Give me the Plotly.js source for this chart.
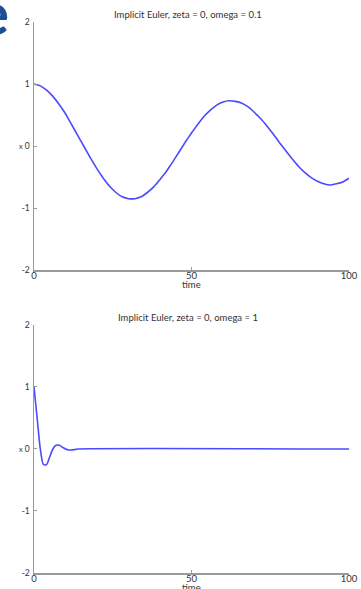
<!DOCTYPE html>
<html>
<head>
<meta charset="utf-8">
<script src="https://cdn.plot.ly/plotly-3.0.1.min.js"></script>
<style>html,body{margin:0;padding:0;background:#fff;}#chart{width:361px;height:589px;}</style>
</head>
<body>
<div id="chart"></div>
<script>
// Top panel: Implicit Euler, zeta = 0, omega = 0.1
const timeTop = [0,2,4,6,8,10,12,14,16,18,20,22,24,26,28,30,32,34,36,38,40,42,44,46,48,50,52,54,56,58,60,62,64,66,68,70,72,74,76,78,80,82,84,86,88,90,92,94,96,98,100];
const xTop = [1.00,0.97,0.90,0.80,0.67,0.52,0.34,0.16,-0.02,-0.20,-0.37,-0.52,-0.65,-0.75,-0.82,-0.85,-0.85,-0.82,-0.75,-0.66,-0.54,-0.41,-0.26,-0.10,0.06,0.21,0.35,0.48,0.58,0.66,0.71,0.73,0.72,0.69,0.63,0.54,0.44,0.32,0.19,0.05,-0.08,-0.21,-0.33,-0.43,-0.51,-0.57,-0.61,-0.63,-0.61,-0.58,-0.52];
// Bottom panel: Implicit Euler, zeta = 0, omega = 1
const timeBot = [0,1,2,3,4,5,6,7,8,9,10,11,12,13,14,100];
const xBot = [1.0,0.5,0.0,-0.25,-0.25,-0.125,0.0,0.06,0.06,0.03,0.0,-0.016,-0.016,-0.008,0.0,0.0];

const titles = ["Implicit Euler, zeta = 0, omega = 0.1", "Implicit Euler, zeta = 0, omega = 1"];
const xTitle = "time";
const yTitle = "x";
const xTicks = [0,50,100];
const yTicks = [-2,-1,0,1,2];

const FONT = "Lato, 'Open Sans', sans-serif";
const lineColor = "#4a4aff";
const axisColor = "#9a9a9a";

const traces = [
  {x: timeTop, y: xTop, type: "scatter", mode: "lines", line: {color: lineColor, width: 1.6, shape: "spline", smoothing: 0.2}, xaxis: "x", yaxis: "y", hoverinfo: "skip"},
  {x: timeBot, y: xBot, type: "scatter", mode: "lines", line: {color: lineColor, width: 1.6, shape: "spline", smoothing: 0.7}, xaxis: "x2", yaxis: "y2", hoverinfo: "skip"}
];

function xa(anchor) {
  return {
    anchor: anchor, range: [0, 100], tickvals: xTicks, ticktext: xTicks.map(String),
    showgrid: false, zeroline: false, showline: true, linecolor: axisColor, linewidth: 1.5,
    ticks: "inside", ticklen: 3, tickcolor: axisColor, tickwidth: 1,
    tickfont: {family: FONT, size: 9.5, color: "#333"},
    ticklabelstandoff: -4
  };
}
function ya(anchor, domain) {
  return {
    anchor: anchor, domain: domain, range: [-2, 2], tickvals: yTicks, ticktext: yTicks.map(String),
    showgrid: false, zeroline: false, showline: true, linecolor: axisColor, linewidth: 1.5,
    ticks: "inside", ticklen: 3, tickcolor: axisColor, tickwidth: 1,
    tickfont: {family: FONT, size: 8.5, color: "#333"},
    ticklabelstandoff: 1
  };
}

const small = {family: FONT, size: 9.5, color: "#333"};
const layout = {
  width: 361, height: 589,
  margin: {l: 34, r: 12, t: 22, b: 16},
  paper_bgcolor: "#fff", plot_bgcolor: "#fff",
  showlegend: false,
  xaxis: xa("y"),
  yaxis: ya("x", [0.5499, 1]),
  xaxis2: xa("y2"),
  yaxis2: ya("x2", [0, 0.4501]),
  annotations: [
    {text: titles[0], xref: "paper", yref: "paper", x: 0.49, y: 1.0145, xanchor: "center", yanchor: "middle", showarrow: false, font: small},
    {text: titles[1], xref: "paper", yref: "paper", x: 0.49, y: 0.4646, xanchor: "center", yanchor: "middle", showarrow: false, font: small},
    {text: xTitle, xref: "paper", yref: "paper", x: 0.5, y: 0.5245, xanchor: "center", yanchor: "middle", showarrow: false, font: small},
    {text: xTitle, xref: "paper", yref: "paper", x: 0.5, y: -0.0272, xanchor: "center", yanchor: "middle", showarrow: false, font: small},
    {text: yTitle, xref: "paper", yref: "paper", x: -0.028, y: 0.7749, xanchor: "right", yanchor: "middle", showarrow: false, font: {family: FONT, size: 7.5, color: "#333"}},
    {text: yTitle, xref: "paper", yref: "paper", x: -0.028, y: 0.2250, xanchor: "right", yanchor: "middle", showarrow: false, font: {family: FONT, size: 7.5, color: "#333"}},
    {text: "<b>e</b>", xref: "paper", yref: "paper", x: -0.073, y: 1.018, xanchor: "right", yanchor: "middle", showarrow: false, font: {family: FONT, size: 60, color: "#1c4f96"}}
  ]
};

Plotly.newPlot("chart", traces, layout, {staticPlot: true, displayModeBar: false});
</script>
</body>
</html>
